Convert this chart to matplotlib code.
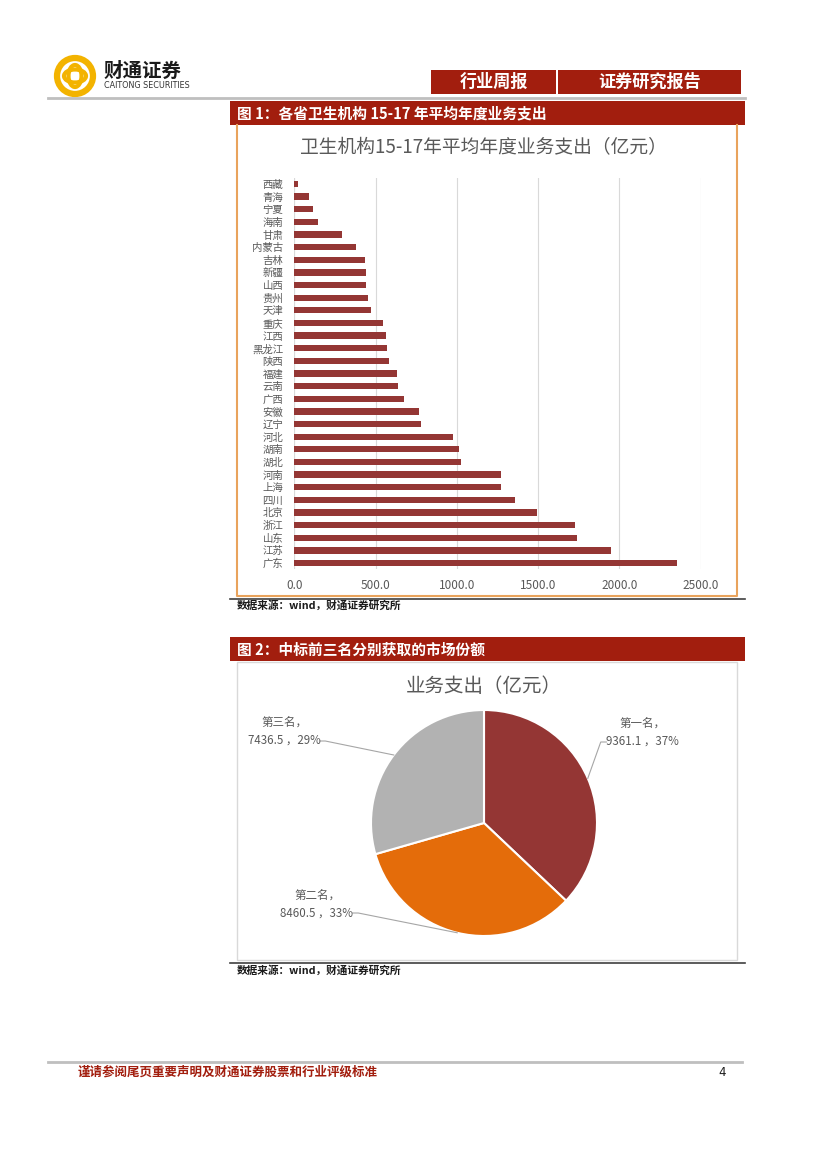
import numpy as np
import matplotlib
matplotlib.use('Agg')
import matplotlib.pyplot as plt
from matplotlib.patches import Rectangle, Circle, Ellipse
from matplotlib.lines import Line2D

plt.rcParams['font.family'] = ['Noto Sans CJK SC', 'DejaVu Sans']

# data
provinces = ['西藏', '青海', '宁夏', '海南', '甘肃', '内蒙古', '吉林', '新疆', '山西', '贵州',
             '天津', '重庆', '江西', '黑龙江', '陕西', '福建', '云南', '广西', '安徽', '辽宁',
             '河北', '湖南', '湖北', '河南', '上海', '四川', '北京', '浙江', '山东', '江苏', '广东']
spend = [25, 92, 117, 143, 291, 379, 432, 439, 439, 451,
         472, 547, 566, 572, 580, 629, 635, 674, 765, 779,
         976, 1015, 1027, 1271, 1271, 1360, 1491, 1726, 1739, 1950, 2354]
xticks = [0, 500, 1000, 1500, 2000, 2500]

pie_names = ['第一名', '第二名', '第三名']
pie_vals = [9361.1, 8460.5, 7436.5]
pie_colors = ['#943634', '#E46C0A', '#B2B2B2']

W, H = 827, 1170
fig = plt.figure(figsize=(W / 100, H / 100), dpi=100)
RED = '#A21E0E'
GRAY = '#595959'


def px_axes(x, y, w, h, **kw):
    return fig.add_axes([x / W, 1 - (y + h) / H, w / W, h / H], **kw)


# page decorations
bg = px_axes(0, 0, W, H)
bg.set_xlim(0, W)
bg.set_ylim(H, 0)
bg.axis('off')

# logo
bg.add_patch(Circle((75, 76), 18, fc='none', ec='#F3B300', lw=4.5))
bg.add_patch(Ellipse((75, 76), 13, 22, fc='none', ec='#F3B300', lw=3))
bg.add_patch(Ellipse((75, 76), 22, 13, fc='none', ec='#F3B300', lw=3))
bg.text(104, 71, '财通证券', fontsize=14, fontweight='bold', color='#1a1a1a', va='center', ha='left')
bg.text(104, 85, 'CAITONG SECURITIES', fontsize=5.8, color='#333333', va='center', ha='left',
        family='DejaVu Sans')

# header boxes
bg.add_patch(Rectangle((431, 70), 125, 24, fc=RED, ec='none'))
bg.add_patch(Rectangle((558, 70), 183, 24, fc=RED, ec='none'))
bg.text(494, 82, '行业周报', fontsize=12.3, fontweight='bold', color='white', ha='center', va='center')
bg.text(650, 82, '证券研究报告', fontsize=12.3, fontweight='bold', color='white', ha='center', va='center')
bg.add_line(Line2D([48, 745], [97.5, 97.5], color='#BFBFBF', lw=2))

# figure 1 frame
bg.add_patch(Rectangle((230, 101), 515, 24, fc=RED, ec='none'))
bg.text(237, 113.5, '图 1：各省卫生机构 15-17 年平均年度业务支出', fontsize=10.6, fontweight='bold',
        color='white', ha='left', va='center')
bg.add_line(Line2D([237, 237, 737, 737], [125, 596, 596, 125], color='#E9A35C', lw=1.5))
bg.add_line(Line2D([230, 745], [598.5, 598.5], color='#404040', lw=1.2))
bg.text(237, 605, '数据来源：wind，财通证券研究所', fontsize=7.7, fontweight='bold', color='#1a1a1a',
        ha='left', va='center')
bg.text(483, 148, '卫生机构15-17年平均年度业务支出（亿元）', fontsize=13.5, color=GRAY,
        ha='center', va='center')

# figure 2 frame
bg.add_patch(Rectangle((230, 637), 515, 24, fc=RED, ec='none'))
bg.text(237, 649.5, '图 2：中标前三名分别获取的市场份额', fontsize=10.6, fontweight='bold',
        color='white', ha='left', va='center')
bg.add_patch(Rectangle((237, 662), 500, 298, fc='none', ec='#D9D9D9', lw=1))
bg.add_line(Line2D([230, 745], [963, 963], color='#404040', lw=1.2))
bg.text(237, 970, '数据来源：wind，财通证券研究所', fontsize=7.7, fontweight='bold', color='#1a1a1a',
        ha='left', va='center')

# footer
bg.add_line(Line2D([48, 742], [1062, 1062], color='#BFBFBF', lw=2))
bg.text(78, 1072, '谨请参阅尾页重要声明及财通证券股票和行业评级标准', fontsize=9, fontweight='bold',
        color='#A21E0E', ha='left', va='center')
bg.text(722, 1072, '4', fontsize=8.5, color='#1a1a1a', ha='center', va='center', family='DejaVu Sans')

# bar chart
ax = px_axes(294.3, 177.7, 406.4, 391.6)
ypos = np.arange(len(provinces))
ax.barh(ypos, spend, height=0.5, color='#943634', zorder=3)
ax.set_xlim(0, 2500)
ax.set_ylim(len(provinces) - 0.5, -0.5)
ax.set_xticks(xticks)
ax.set_xticklabels(['%.1f' % v for v in xticks], fontsize=8.5, color=GRAY)
ax.set_yticks(ypos)
ax.set_yticklabels(provinces, fontsize=7.5, color=GRAY)
ax.grid(axis='x', color='#D9D9D9', lw=0.8, zorder=0)
ax.tick_params(length=0)
ax.tick_params(axis='y', pad=8)
ax.tick_params(axis='x', pad=7)
for s in ax.spines.values():
    s.set_visible(False)
ax.axvline(0, color='#D9D9D9', lw=0.8, zorder=1)
ax.patch.set_alpha(0)

# pie chart
cx, cy, r = 484, 823, 113
pax = px_axes(237, 662, 500, 298)
wedges, _ = pax.pie(pie_vals, colors=pie_colors, startangle=90, counterclock=False, radius=1,
                    wedgeprops=dict(edgecolor='white', linewidth=1.5))
pax.set_xlim(-(cx - 237) / r, (737 - cx) / r)
pax.set_ylim(-(960 - cy) / r, (cy - 662) / r)
pax.set_aspect('equal')
pax.axis('off')
pax.text(0, (cy - 687) / r, '业务支出（亿元）', fontsize=14, color=GRAY, ha='center', va='center')

total = sum(pie_vals)
label_pos = [(642, 732, 'left'), (317, 904, 'right'), (284, 731, 'right')]
line_end = [(603, 742), (356, 913), (323, 741)]
for w, name, val, (lx, ly, side), (ex, ey) in zip(wedges, pie_names, pie_vals, label_pos, line_end):
    ang = np.deg2rad((w.theta1 + w.theta2) / 2)
    px, py = np.cos(ang), np.sin(ang)
    tx, ty = (lx - cx) / r, (cy - ly) / r
    pax.text(tx, ty, '%s，\n%.1f ，%d%%' % (name, val, round(val / total * 100)),
             fontsize=8.3, color=GRAY, ha='center', va='center', linespacing=1.5)
    ex_, ey_ = (ex - cx) / r, (cy - ey) / r
    if side == 'left':
        pax.plot([px, ex_ - 0.02, ex_ + 0.03], [py, ey_, ey_], color='#A6A6A6', lw=0.8)
    else:
        pax.plot([px, ex_ + 0.02, ex_ - 0.03], [py, ey_, ey_], color='#A6A6A6', lw=0.8)

fig.savefig('out.png', dpi=100)
